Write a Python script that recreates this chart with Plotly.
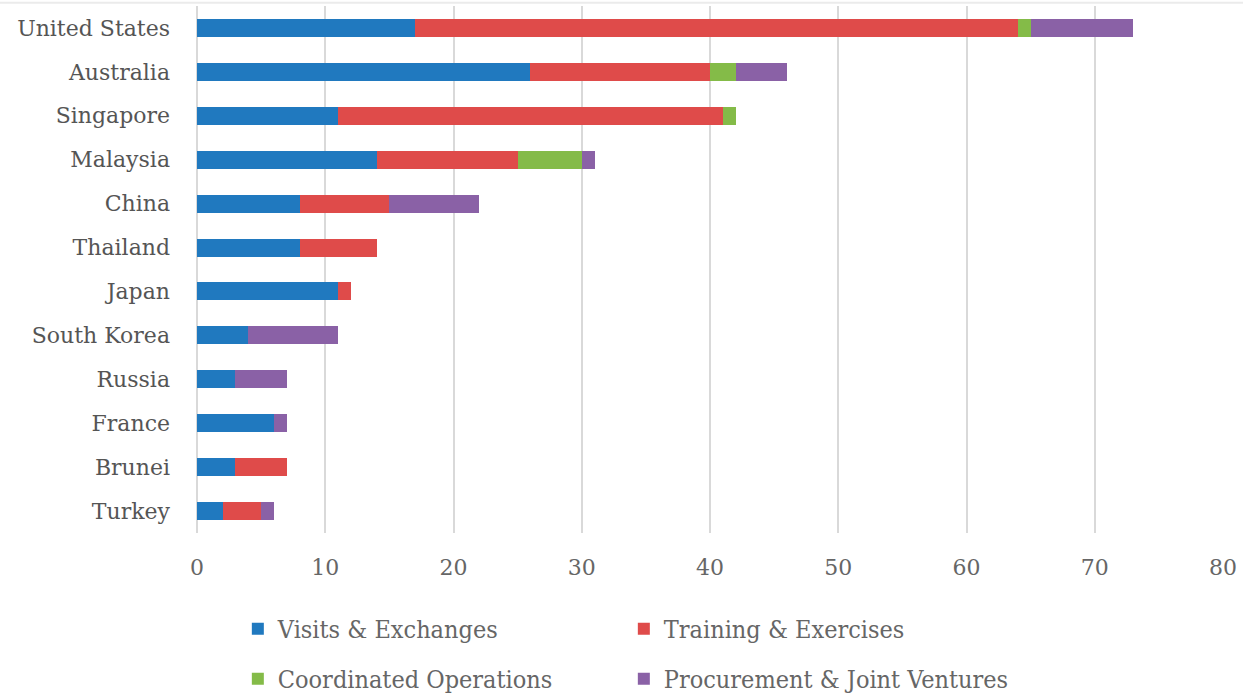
import plotly.graph_objects as go

countries = ["United States", "Australia", "Singapore", "Malaysia", "China", "Thailand",
             "Japan", "South Korea", "Russia", "France", "Brunei", "Turkey"]
visits = [17, 26, 11, 14, 8, 8, 11, 4, 3, 6, 3, 2]
training = [47, 14, 30, 11, 7, 6, 1, 0, 0, 0, 4, 3]
coordinated = [1, 2, 1, 5, 0, 0, 0, 0, 0, 0, 0, 0]
procurement = [8, 4, 0, 1, 7, 0, 0, 7, 4, 1, 0, 1]

series = [
    ("Visits & Exchanges", visits, "#2079BF", "legend"),
    ("Training & Exercises", training, "#DF4B4A", "legend"),
    ("Coordinated Operations", coordinated, "#84BB48", "legend2"),
    ("Procurement & Joint Ventures", procurement, "#8A61A6", "legend2"),
]

fig = go.Figure()
for name, vals, color, lg in series:
    fig.add_trace(go.Bar(y=countries, x=vals, name=name, orientation="h", legend=lg,
                         marker=dict(color=color, line=dict(width=0))))

font = "DejaVu Serif"
legfont = dict(family="DejaVu Serif Condensed", size=25, color="#666666")
fig.update_layout(
    barmode="stack",
    bargap=0.59,
    width=1243, height=695,
    margin=dict(l=197, r=20, t=6, b=162, autoexpand=False),
    plot_bgcolor="white", paper_bgcolor="white",
    font=dict(family=font, size=22, color="#555555"),
    xaxis=dict(range=[0, 80], dtick=10, showgrid=True, gridcolor="#D9D9D9", gridwidth=2,
               zeroline=True, zerolinecolor="#D9D9D9", zerolinewidth=2, automargin=False,
               tickfont=dict(family=font, size=22, color="#666666"), ticks="",
               ticklabelstandoff=19),
    yaxis=dict(autorange="reversed", tickfont=dict(family=font, size=22, color="#555555"),
               ticks="", automargin=False, ticklabelstandoff=26),
    legend=dict(orientation="h", x=0.0398, xanchor="left", y=-0.182, yanchor="middle",
                entrywidth=341, entrywidthmode="pixels", traceorder="normal",
                font=legfont, itemwidth=30, bgcolor="rgba(0,0,0,0)"),
    legend2=dict(orientation="h", x=0.0398, xanchor="left", y=-0.277, yanchor="middle",
                 entrywidth=341, entrywidthmode="pixels", traceorder="normal",
                 font=legfont, itemwidth=30, bgcolor="rgba(0,0,0,0)"),
    showlegend=True,
)
fig.add_shape(type="line", xref="paper", yref="paper", x0=-0.2, x1=1.02, y0=1.006, y1=1.006,
              line=dict(color="#EBEBEB", width=2))
fig.write_html("out.html", config={"displayModeBar": False},
               post_script="document.body.style.margin='0';")
